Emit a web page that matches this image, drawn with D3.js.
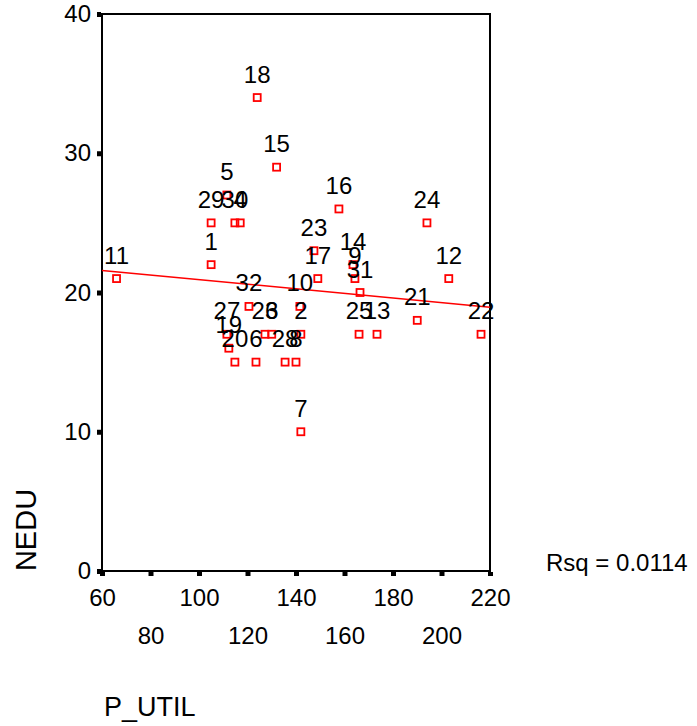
<!DOCTYPE html>
<html>
<head>
<meta charset="utf-8">
<script src="https://cdn.jsdelivr.net/npm/d3@7"></script>
<style>
  body { margin: 0; background: #fff; }
  text { font-family: Arial, "Liberation Sans", sans-serif; fill: #000; }
</style>
</head>
<body>
<div id="container"></div>
<script>
/* CONSTANTS AND GLOBALS */
const width = 697,
  height = 726,
  plot = { left: 102, right: 490, top: 14, bottom: 571 },
  fontSize = 24;

/* DATA */
const caseIds = [1, 2, 3, 4, 5, 6, 7, 8, 9, 10, 11, 12, 13, 14, 15, 16,
  17, 18, 19, 20, 21, 22, 23, 24, 25, 26, 27, 28, 29, 30, 31, 32];
const pUtil = [105, 142, 130, 117, 111.5, 123.5, 142, 140, 164.3, 141.6, 66, 203, 173.4, 163.5, 132, 157.7,
  149, 124, 112.3, 114.8, 190, 216.3, 147.4, 194, 166, 127.2, 111.5, 135.5, 105, 114.8, 166.4, 120.6];
const nEdu = [22, 17, 17, 25, 27, 15, 10, 15, 21, 19, 21, 21, 17, 22, 29, 26,
  21, 34, 16, 15, 18, 17, 23, 25, 17, 17, 17, 15, 25, 25, 20, 19];
const xTicks = [60, 80, 100, 120, 140, 160, 180, 200, 220];
const yTicks = [0, 10, 20, 30, 40];
const rsqLabel = "Rsq = 0.0114";

const data = caseIds.map((id, i) => ({ id: id, x: pUtil[i], y: nEdu[i] }));

/* SCALES */
const xScale = d3.scaleLinear()
  .domain([60, 220])
  .range([plot.left, plot.right])

const yScale = d3.scaleLinear()
  .domain([0, 40])
  .range([plot.bottom, plot.top])

// least squares fit line
const mx = d3.mean(data, d => d.x),
  my = d3.mean(data, d => d.y)
const slope = d3.sum(data, d => (d.x - mx) * (d.y - my)) / d3.sum(data, d => (d.x - mx) ** 2)
const fit = x => my + slope * (x - mx)

/* HTML ELEMENTS */
const svg = d3.select("#container")
  .append("svg")
  .attr("width", width)
  .attr("height", height)

// x axis, labels on two rows
const xAxis = d3.axisBottom(xScale)
  .tickValues(xTicks)
  .tickSizeInner(4)
  .tickSizeOuter(0)
  .tickPadding(0)

const gx = svg.append("g")
  .attr("transform", `translate(0,${plot.bottom + 1})`)
  .call(xAxis)
gx.select(".domain").remove()
gx.selectAll(".tick line").attr("stroke", "#000").attr("stroke-width", 5)
gx.selectAll(".tick text")
  .attr("font-size", fontSize)
  .attr("dy", null)
  .attr("y", (d, i) => i % 2 === 0 ? 34 : 72)

// y axis
const yAxis = d3.axisLeft(yScale)
  .tickValues(yTicks)
  .tickSizeInner(4)
  .tickSizeOuter(0)
  .tickPadding(0)

const gy = svg.append("g")
  .attr("transform", `translate(${plot.left - 1},0)`)
  .call(yAxis)
gy.select(".domain").remove()
gy.selectAll(".tick line").attr("stroke", "#000").attr("stroke-width", 5)
gy.selectAll(".tick text")
  .attr("font-size", fontSize)
  .attr("x", -10)

// frame
svg.append("rect")
  .attr("x", plot.left)
  .attr("y", plot.top)
  .attr("width", plot.right - plot.left)
  .attr("height", plot.bottom - plot.top)
  .attr("fill", "none")
  .attr("stroke", "#000")
  .attr("stroke-width", 2)

// fit line
svg.append("line")
  .attr("x1", xScale(60))
  .attr("y1", yScale(fit(60)))
  .attr("x2", xScale(220))
  .attr("y2", yScale(fit(220)))
  .attr("stroke", "#ff0000")
  .attr("stroke-width", 1.5)

// points
svg.selectAll("rect.pt")
  .data(data, d => d.id)
  .join("rect")
  .attr("class", "pt")
  .attr("x", d => xScale(d.x) - 3.5)
  .attr("y", d => yScale(d.y) - 3.5)
  .attr("width", 7)
  .attr("height", 7)
  .attr("fill", "none")
  .attr("stroke", "#ff0000")
  .attr("stroke-width", 1.8)

// case labels
svg.selectAll("text.lbl")
  .data(data, d => d.id)
  .join("text")
  .attr("class", "lbl")
  .attr("x", d => xScale(d.x))
  .attr("y", d => yScale(d.y) - 15)
  .attr("text-anchor", "middle")
  .attr("font-size", fontSize)
  .text(d => d.id)

// titles
svg.append("text")
  .attr("transform", "translate(36,530) rotate(-90)")
  .attr("text-anchor", "middle")
  .attr("font-size", 29)
  .text("NEDU")

svg.append("text")
  .attr("transform", "translate(104,716)")
  .attr("font-size", 27)
  .text("P_UTIL")

svg.append("text")
  .attr("transform", "translate(546,571)")
  .attr("font-size", fontSize)
  .text(rsqLabel)
</script>
</body>
</html>
